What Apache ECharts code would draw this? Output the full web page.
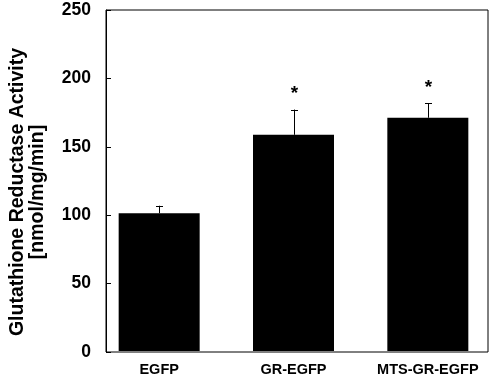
<!DOCTYPE html>
<html><head><meta charset="utf-8">
<script src="https://cdn.jsdelivr.net/npm/echarts@6/dist/echarts.min.js"></script>
<style>html,body{margin:0;padding:0;background:#fff}#c{width:497px;height:377px}</style>
</head><body><div id="c"></div>
<script>
var categories = ['EGFP', 'GR-EGFP', 'MTS-GR-EGFP'];
var means = [101, 158.5, 171];
var errUpper = [106.5, 177, 181.5];
var marks = ['', '*', '*'];
var yTicks = [0, 50, 100, 150, 200, 250];

var FONT = '"Liberation Sans", Arial, sans-serif';
var chart = echarts.init(document.getElementById('c'));
chart.setOption({
  animation: false,
  backgroundColor: '#fff',
  grid: [
    {left: 92, top: 10, width: 396, height: 342, show: true, borderColor: '#000', borderWidth: 1, backgroundColor: 'transparent'},
    {left: 92, top: 10, width: 403, height: 342}
  ],
  xAxis: [
    {gridIndex: 0, type: 'value', show: false, min: 0, max: 1},
    {gridIndex: 1, type: 'category', data: categories,
     axisLine: {show: false}, axisTick: {show: false},
     axisLabel: {color: '#000', fontFamily: FONT, fontWeight: 'bold', fontSize: 14.5, margin: 11}}
  ],
  yAxis: [
    {gridIndex: 0, type: 'value', min: yTicks[0], max: yTicks[yTicks.length - 1], interval: 50,
     splitLine: {show: false},
     axisLine: {show: true, lineStyle: {color: '#000'}},
     axisTick: {show: true, inside: true, length: 5, lineStyle: {color: '#000'}},
     axisLabel: {color: '#000', fontFamily: FONT, fontWeight: 'bold', fontSize: 17.5, margin: 15},
     name: 'Glutathione Reductase Activity\n[nmol/mg/min]',
     nameLocation: 'middle', nameRotate: 90, nameGap: 58,
     nameTextStyle: {color: '#000', fontFamily: FONT, fontWeight: 'bold', fontSize: 19.5, lineHeight: 20, padding: [0, 22, 0, 0]}},
    {gridIndex: 1, type: 'value', min: 0, max: 250, show: false}
  ],
  series: [
    {type: 'bar', xAxisIndex: 1, yAxisIndex: 1, data: means, barWidth: 81,
     itemStyle: {color: '#000'}},
    {type: 'custom', xAxisIndex: 1, yAxisIndex: 1,
     data: categories.map(function (c, i) { return [i, means[i], errUpper[i], marks[i]]; }),
     renderItem: function (params, api) {
       var base = api.coord([api.value(0), api.value(1)]);
       var top = api.coord([api.value(0), api.value(2)]);
       var x = Math.round(base[0]) + 0.5;
       var children = [
         {type: 'line', shape: {x1: x, y1: base[1], x2: x, y2: top[1]}, style: {stroke: '#000', lineWidth: 1}},
         {type: 'line', shape: {x1: x - 3.5, y1: Math.round(top[1]) + 0.5, x2: x + 3.5, y2: Math.round(top[1]) + 0.5}, style: {stroke: '#000', lineWidth: 1}}
       ];
       var m = marks[params.dataIndex];
       if (m) {
         children.push({type: 'text', x: x, y: top[1] - 16,
           style: {text: m, fill: '#000', font: 'bold 19px ' + FONT, align: 'center', verticalAlign: 'middle'}});
       }
       return {type: 'group', children: children};
     }}
  ]
});
</script></body></html>
